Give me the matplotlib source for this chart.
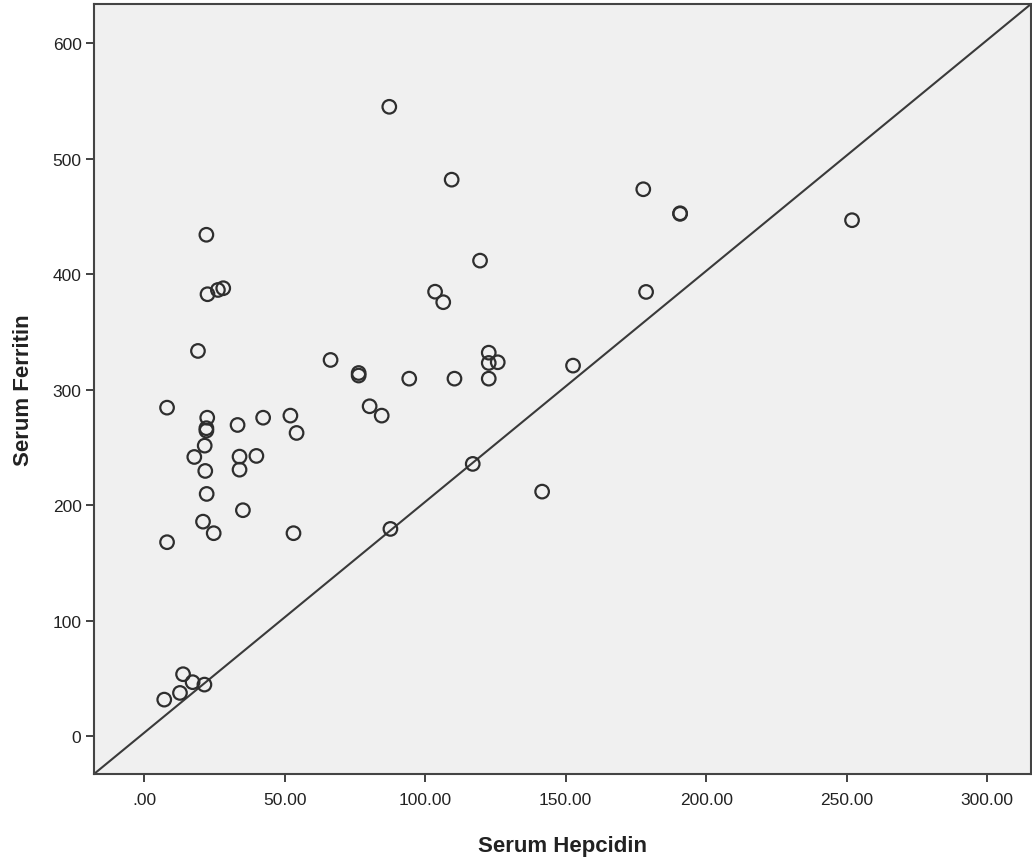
import matplotlib
matplotlib.use("Agg")
import matplotlib.pyplot as plt
from matplotlib.ticker import FuncFormatter

hepcidin = [87.2, 109.4, 177.6, 190.7, 190.7, 251.9, 22.1, 119.5, 22.5, 26.2, 28.1,
            19.1, 66.3, 8.1, 22.4, 22.1, 22.1, 33.2, 42.3, 52.0, 54.2, 21.5, 17.8,
            33.9, 39.9, 21.7, 33.9, 22.2, 35.1, 20.9, 24.7, 53.1, 8.1,
            13.8, 17.2, 21.4, 12.7, 7.1,
            103.5, 106.4, 76.3, 76.3, 94.3, 110.4, 122.6, 122.6, 125.8, 122.6, 152.6,
            80.2, 84.5, 116.9, 141.6, 87.6, 178.6]
ferritin = [545.0, 481.9, 473.6, 452.8, 452.3, 446.8, 434.2, 411.8, 382.7, 386.4, 387.9,
            333.6, 325.8, 284.5, 275.8, 266.7, 264.6, 269.5, 275.8, 277.6, 262.6, 251.6, 241.8,
            242.1, 242.7, 229.7, 230.8, 209.8, 195.7, 185.8, 175.8, 175.8, 168.0,
            53.7, 46.8, 44.7, 37.5, 31.7,
            384.9, 375.8, 314.5, 312.3, 309.6, 309.6, 332.1, 323.2, 323.8, 309.6, 320.9,
            285.7, 277.6, 235.8, 211.8, 179.5, 384.7]

x_ticks = [0, 50, 100, 150, 200, 250, 300]
y_ticks = [0, 100, 200, 300, 400, 500, 600]

plt.rcParams['font.family'] = ['Liberation Sans', 'DejaVu Sans']

fig = plt.figure(figsize=(10.32, 8.62), dpi=100)
ax = fig.add_axes([94/1032, 87/862, (1031-94)/1032, (775-5)/862])
ax.set_facecolor('#f0f0f0')

ax.scatter(hepcidin, ferritin, s=95, facecolors='none', edgecolors='#2e2e2e',
           linewidths=1.6, zorder=3)
ax.plot([0, 1], [0, 1], transform=ax.transAxes, color='#3a3a3a', lw=1.5, zorder=2)

ax.set_xlim(-17.9, 315.6)
ax.set_ylim(-32.7, 634.0)
ax.set_xticks(x_ticks)
ax.set_yticks(y_ticks)
ax.xaxis.set_major_formatter(FuncFormatter(lambda v, p: '.00' if v == 0 else f'{v:.2f}'))
ax.yaxis.set_major_formatter(FuncFormatter(lambda v, p: f'{int(v)}'))

for s in ax.spines.values():
    s.set_color('#444444')
    s.set_linewidth(1.5)
ax.tick_params(axis='both', direction='out', length=6, width=1.3, color='#333333',
               labelsize=12.5, labelcolor='#222222')
ax.tick_params(axis='x', pad=7)
ax.tick_params(axis='y', pad=3)

ax.set_xlabel('Serum Hepcidin', fontsize=16, fontweight='bold', labelpad=20, color='#222222')
ax.set_ylabel('Serum Ferritin', fontsize=16, fontweight='bold', labelpad=13, color='#222222')

fig.savefig('out.png', dpi=100, facecolor='white')
